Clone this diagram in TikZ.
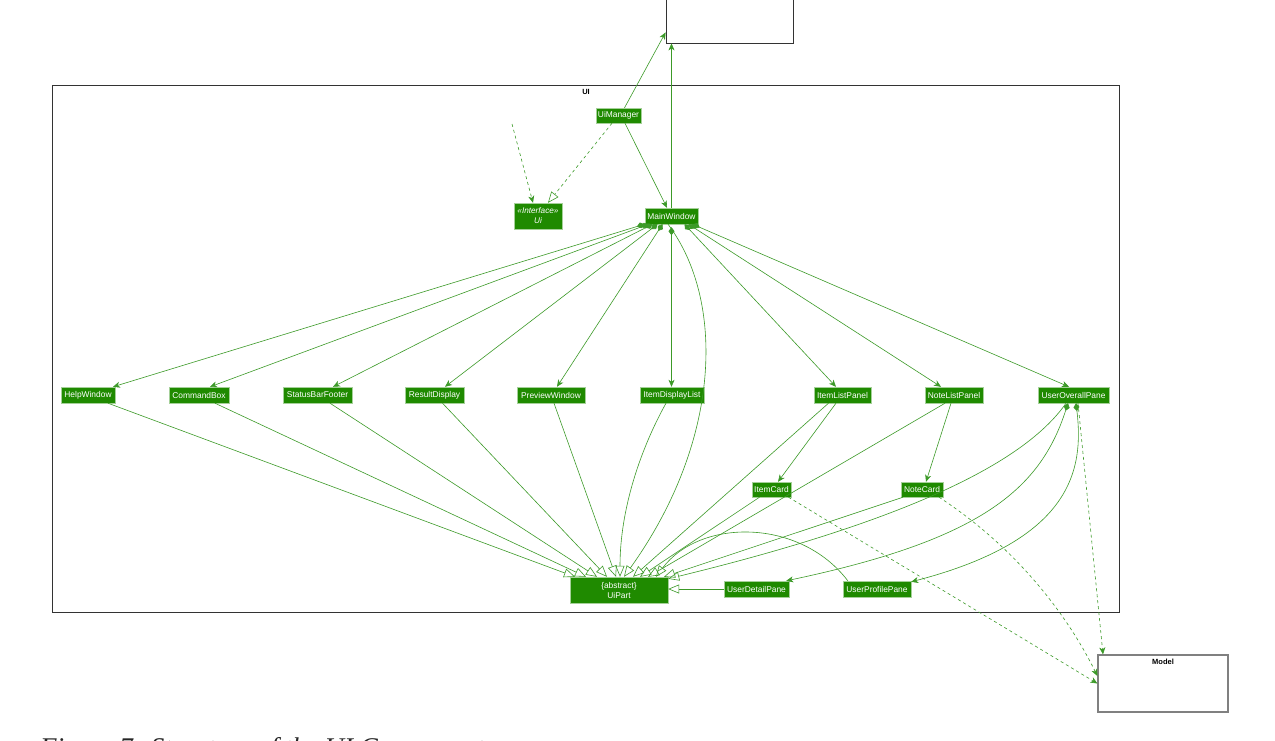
\documentclass[tikz,border=0pt]{standalone}
\usepackage{fontspec}
\setmainfont{Liberation Serif}
\newfontfamily\umlfont{Liberation Sans}
\usetikzlibrary{arrows.meta,calc}
\definecolor{umlgreen}{HTML}{1F8A00}
\definecolor{edgegreen}{HTML}{3C9A28}
\definecolor{framegray}{HTML}{333333}
\definecolor{modelgray}{HTML}{808080}
\begin{document}
\begin{tikzpicture}[x=1pt,y=-1pt,
  cls/.style={draw=white!60!umlgreen, line width=0.4pt, fill=umlgreen, text=white,
    font=\umlfont\fontsize{8.4}{9.8}\selectfont, inner sep=0pt, minimum height=16pt, align=center},
  pkg/.style={draw=framegray, line width=0.8pt, fill=none, inner sep=0pt},
  pkglabel/.style={font=\umlfont\bfseries\fontsize{7.5}{9}\selectfont, text=black, inner sep=0pt},
  edge/.style={draw=edgegreen, line width=0.6pt},
  assoc/.style={edge, -{Stealth[length=7pt,width=6pt,inset=2pt]}},
  comp/.style={edge, {Diamond[length=8pt,width=6pt]}-{Stealth[length=7pt,width=6pt,inset=2pt]}},
  gen/.style={edge, -{Triangle[open,length=11pt,width=9pt]}},
  real/.style={gen, dash pattern=on 3pt off 3pt},
  dep/.style={assoc, dash pattern=on 3pt off 3pt}
]
\clip (0,0) rectangle (1275,740);
\useasboundingbox (0,0) rectangle (1275,740);
\fill[white] (0,0) rectangle (1275,740);

% packages / outside boxes
\node[pkg, minimum width=127pt, minimum height=60pt] (logic) at (729.5,13) {};
\node[pkg, minimum width=1067pt, minimum height=527pt] (uipkg) at (585.5,348.5) {};
\node[pkglabel] (uilabel) at (586,92) {UI};
\node[pkg, draw=modelgray, line width=1.2pt, minimum width=130pt, minimum height=57pt] (model) at (1163,683.5) {};
\node[pkglabel] (modellabel) at (1163,661.5) {Model};

% classes
\node[cls, minimum width=45pt, minimum height=15pt] (uim) at (618.5,115.5) {UiManager};
\node[cls, minimum width=48pt, minimum height=26pt, font=\umlfont\itshape\fontsize{8.2}{10}\selectfont] (ui) at (538,216) {«Interface»\\Ui};
\node[cls, minimum width=53pt] (mw) at (671.5,216) {MainWindow};
\node[cls, minimum width=54pt] (hw) at (88,395) {HelpWindow};
\node[cls, minimum width=60pt] (cb) at (199,395) {CommandBox};
\node[cls, minimum width=69pt] (sbf) at (317.5,395) {StatusBarFooter};
\node[cls, minimum width=59pt] (rd) at (434.5,395) {ResultDisplay};
\node[cls, minimum width=68pt] (pw) at (551,395) {PreviewWindow};
\node[cls, minimum width=64pt] (idl) at (672,395) {ItemDisplayList};
\node[cls, minimum width=57pt] (ilp) at (842.5,395) {ItemListPanel};
\node[cls, minimum width=58pt] (nlp) at (954,395) {NoteListPanel};
\node[cls, minimum width=71pt] (uop) at (1073.5,395) {UserOverallPane};
\node[cls, minimum width=39pt, minimum height=15pt] (ic) at (771.5,489.5) {ItemCard};
\node[cls, minimum width=42pt, minimum height=15pt] (nc) at (922,489.5) {NoteCard};
\node[cls, minimum width=98pt, minimum height=26pt, font=\umlfont\fontsize{8.4}{10}\selectfont] (up) at (619,590) {\{abstract\}\\UiPart};
\node[cls, minimum width=65pt] (udp) at (756.5,589) {UserDetailPane};
\node[cls, minimum width=68pt] (upp) at (877,589) {UserProfilePane};

% top connections
\draw[assoc] ([xshift=6pt]uim.north) -- ([yshift=11pt]logic.south west);
\draw[assoc] (mw.north) -- (mw.north |- logic.south);
\draw[assoc] ([xshift=6.5pt]uim.south) -- ([xshift=-4.5pt]mw.north);
\draw[real] ([xshift=-6.5pt]uim.south) -- ([xshift=10pt]ui.north);
\coordinate (uisrc) at (512,124);
\draw[dep] (uisrc) -- ([xshift=-5pt]ui.north);

% MainWindow compositions
\draw[comp] ([xshift=-27pt]mw.south) -- ([xshift=25pt]hw.north);
\draw[comp] ([xshift=-23pt]mw.south) -- ([xshift=11pt]cb.north);
\draw[comp] ([xshift=-19pt]mw.south) -- ([xshift=15.5pt]sbf.north);
\draw[comp] ([xshift=-14pt]mw.south) -- ([xshift=10.5pt]rd.north);
\draw[comp] ([xshift=-9pt]mw.south) -- ([xshift=6pt]pw.north);
\draw[comp] ([yshift=-3pt]mw.south) -- (mw.south |- idl.north);
\draw[comp] ([xshift=13pt]mw.south) -- ([xshift=-6.5pt]ilp.north);
\draw[comp] ([xshift=17pt]mw.south) -- ([xshift=-13pt]nlp.north);
\draw[comp] ([xshift=21pt]mw.south) -- ([xshift=-4.5pt]uop.north);

% panels to cards
\draw[assoc] ([xshift=-6.5pt]ilp.south) -- ([xshift=6.5pt]ic.north);
\draw[assoc] ([xshift=-3pt]nlp.south) -- ([xshift=4pt]nc.north);

% UserOverallPane compositions
\draw[comp] ([xshift=-5.5pt]uop.south) .. controls (1040,490) and (980,540) .. ([xshift=-3pt]udp.north east);
\draw[comp] ([xshift=2.5pt]uop.south) .. controls (1084,470) and (1072,540) .. ([yshift=-1pt]upp.north east);

% generalizations to UiPart
\draw[gen] ([xshift=20pt]hw.south) -- ([xshift=-44pt]up.north);
\draw[gen] ([xshift=16pt]cb.south) -- ([xshift=-33pt]up.north);
\draw[gen] ([xshift=12.5pt]sbf.south) -- ([xshift=-22pt]up.north);
\draw[gen] ([xshift=8pt]rd.south) -- ([xshift=-12pt]up.north);
\draw[gen] ([xshift=3pt]pw.south) -- ([xshift=-3pt]up.north);
\draw[gen] ([xshift=-6pt]idl.south) .. controls (640,450) and (620,510) .. ([xshift=1pt]up.north);
\draw[gen] ([xshift=-3.5pt]mw.south) .. controls (725,300) and (722,440) .. ([xshift=5pt]up.north);
\draw[gen] ([xshift=-14pt]ilp.south) -- ([xshift=14pt]up.north);
\draw[gen] ([xshift=-12pt]ic.south) -- ([xshift=21pt]up.north);
\draw[gen] ([xshift=-9pt]nlp.south) -- ([xshift=29pt]up.north);
\draw[gen] ([xshift=-19pt]nc.south) -- ([xshift=45pt]up.north);
\draw[gen] ([xshift=5pt]upp.north west) .. controls (800,518) and (700,518) .. ([xshift=37pt]up.north);
\draw[gen] ([xshift=-7.5pt]uop.south) .. controls (1030,455) and (930,515) .. ([yshift=-2pt]up.north east);
\draw[gen] (udp.west) -- (udp.west -| up.east);

% dependencies to Model
\draw[dep] ([xshift=17pt]ic.south) -- (model.west);
\draw[dep] ([xshift=17pt]nc.south) .. controls (1020,550) and (1070,620) .. ([yshift=7.5pt]model.west);
\draw[dep] ([xshift=4.5pt]uop.south) -- ([xshift=-60pt]model.north);

% caption (cut off at page bottom, as in the reference)
\node[anchor=base west, inner sep=0pt, font=\itshape\fontsize{27}{30}\selectfont, text=black!85] (caption) at (40,756) {Figure 7: Structure of the UI Component};
\end{tikzpicture}
\end{document}
